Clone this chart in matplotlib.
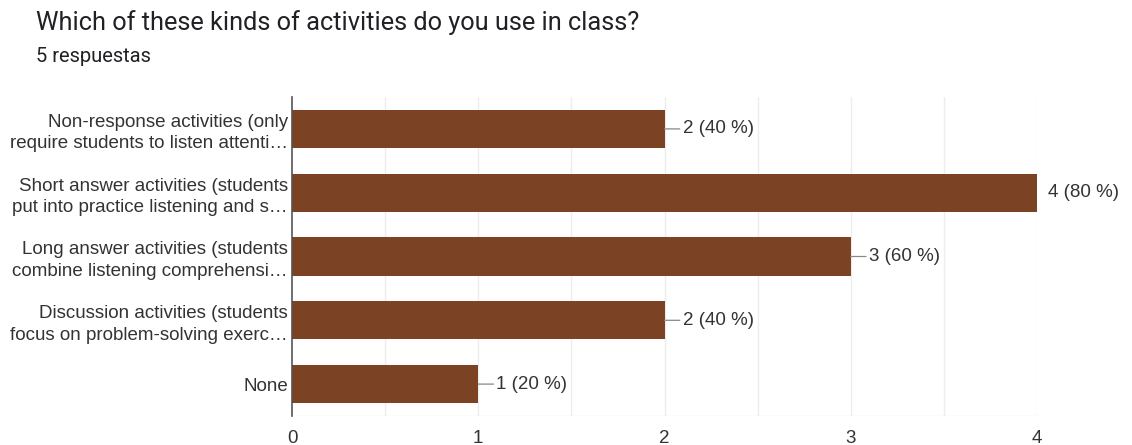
import matplotlib.pyplot as plt
import numpy as np

plt.rcParams['font.family'] = ['Liberation Sans', 'DejaVu Sans']

# survey answers
categories = [
    "Non-response activities (only\nrequire students to listen attenti…",
    "Short answer activities (students\nput into practice listening and s…",
    "Long answer activities (students\ncombine listening comprehensi…",
    "Discussion activities (students\nfocus on problem-solving exerc…",
    "None",
]
counts = [2, 4, 3, 2, 1]
percents = [40, 80, 60, 40, 20]
xticks = [0, 1, 2, 3, 4]

bar_color = "#7b4323"
text_color = "#333333"
fs = 13.5

fig = plt.figure(figsize=(11.32, 4.45), dpi=100)
ax = fig.add_axes([292 / 1132, 1 - 416 / 445, (1037 - 292) / 1132, (416 - 97) / 445])

y = np.arange(len(categories))
ax.barh(y, counts, height=0.6, color=bar_color, zorder=3)
ax.set_ylim(len(categories) - 0.5, -0.5)
ax.set_xlim(0, 4)

# grid at every half step
for gx in np.arange(0.5, 4.01, 0.5):
    ax.axvline(gx, color="#ededed", lw=1, zorder=1)
ax.axhline(len(categories) - 0.5, color="#ededed", lw=1, zorder=1)

for s in ["top", "right", "bottom"]:
    ax.spines[s].set_visible(False)
ax.spines["left"].set_color("#555555")
ax.spines["left"].set_linewidth(1.2)
ax.spines["left"].set_zorder(4)

ax.set_yticks(y)
ax.set_yticklabels(categories, fontsize=fs, color=text_color, linespacing=1.35)
ax.set_xticks(xticks)
ax.set_xticklabels([str(t) for t in xticks], fontsize=fs, color=text_color)
ax.tick_params(axis="both", length=0)
ax.tick_params(axis="y", pad=3)
ax.tick_params(axis="x", pad=10)

# value labels with small leader lines
top = max(counts)
for yi, c, p in zip(y, counts, percents):
    label = f"{c} ({p} %)"
    if c == top:
        ax.annotate(label, xy=(c, yi), xytext=(8, 0), textcoords="offset points",
                    va="center", ha="left", fontsize=fs, color=text_color,
                    annotation_clip=False)
    else:
        ax.annotate(label, xy=(c, yi), xytext=(13, 0), textcoords="offset points",
                    va="center", ha="left", fontsize=fs, color=text_color,
                    arrowprops=dict(arrowstyle="-", color="#888888", lw=0.9,
                                    shrinkA=0, shrinkB=0),
                    annotation_clip=False)

fig.text(36 / 1132, 1 - 23 / 445, "Which of these kinds of activities do you use in class?",
         fontsize=18.3, color="#202124", va="center", ha="left", family=["Roboto", "DejaVu Sans"])
fig.text(36 / 1132, 1 - 56 / 445, "5 respuestas", fontsize=14.5,
         color="#202124", va="center", ha="left", family=["Roboto", "DejaVu Sans"])

fig.savefig("out.png", dpi=100, facecolor="white")
